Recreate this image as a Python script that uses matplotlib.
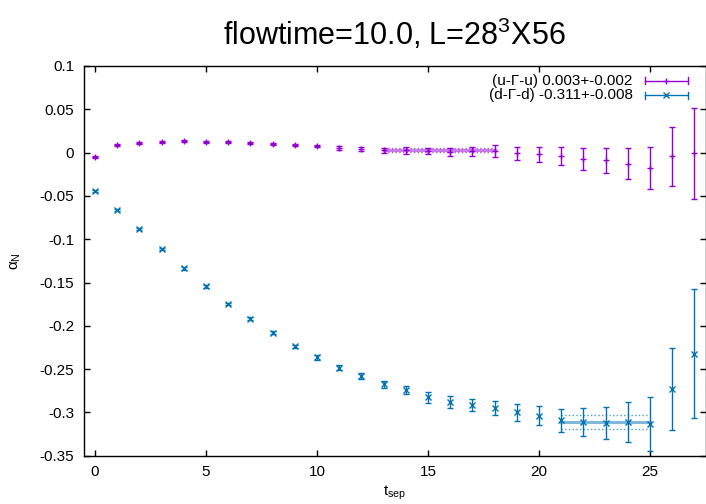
import numpy as np
import matplotlib
matplotlib.use("Agg")
import matplotlib.pyplot as plt

plt.rcParams["font.family"] = ["Liberation Sans", "DejaVu Sans"]
plt.rcParams["mathtext.fontset"] = "custom"
plt.rcParams["mathtext.rm"] = "Liberation Sans"

t_sep = list(range(28))

uu = [-0.005, 0.0084, 0.0107, 0.0122, 0.013, 0.0126, 0.0122, 0.0114, 0.0099, 0.0087,
      0.0076, 0.0053, 0.0042, 0.0027, 0.0027, 0.0022, 0.0007, 0.0015, 0.0015, -0.001,
      -0.002, -0.004, -0.0075, -0.0087, -0.013, -0.018, -0.004, -0.001]
uu_err = [0.001, 0.001, 0.001, 0.001, 0.0012, 0.0012, 0.0013, 0.0013, 0.0014, 0.0015,
          0.0016, 0.0018, 0.002, 0.003, 0.004, 0.0036, 0.0046, 0.005, 0.0067, 0.008,
          0.009, 0.010, 0.0124, 0.0143, 0.018, 0.0244, 0.034, 0.0525]

dd = [-0.0446, -0.0666, -0.0886, -0.111, -0.1338, -0.1546, -0.1747, -0.192, -0.208, -0.2237,
      -0.2365, -0.2485, -0.258, -0.2675, -0.274, -0.2826, -0.288, -0.2915, -0.295, -0.300,
      -0.304, -0.309, -0.311, -0.312, -0.311, -0.313, -0.273, -0.232]
dd_err = [0.001, 0.001, 0.0012, 0.0012, 0.0013, 0.0014, 0.0015, 0.0017, 0.002, 0.002,
          0.0025, 0.003, 0.003, 0.004, 0.005, 0.006, 0.0065, 0.007, 0.008, 0.0094,
          0.011, 0.0135, 0.0158, 0.0187, 0.0235, 0.031, 0.047, 0.075]

# plateau fits: (value, error, t range)
uu_fit = (0.003, 0.002, (13, 18))
dd_fit = (-0.311, 0.008, (21, 25))

labels = ["(u-Γ-u) 0.003+-0.002", "(d-Γ-d) -0.311+-0.008"]

purple = "#9400d3"
blue = "#0072b2"

fig = plt.figure(figsize=(7.06, 5.04), dpi=100)
ax = fig.add_axes([84 / 706, 1 - 455.7 / 504, 621.5 / 706, 389.7 / 504])

for y, err, fit, col, mk in [(uu, uu_err, uu_fit, purple, "+"),
                             (dd, dd_err, dd_fit, blue, "x")]:
    ax.errorbar(t_sep, y, yerr=err, fmt=mk, color=col, ms=5, mew=1,
                elinewidth=1, capsize=2.5, capthick=1)
    val, e, (t0, t1) = fit
    ax.plot([t0, t1], [val, val], color=col, lw=2.2, alpha=0.5)
    ax.plot([t0, t1], [val + e, val + e], color=col, lw=1, ls=":", alpha=0.7)
    ax.plot([t0, t1], [val - e, val - e], color=col, lw=1, ls=":", alpha=0.7)

# gnuplot-style key
key_rows = [0.9623, 0.9248]
for lab, ky, col, mk in zip(labels, key_rows, [purple, blue], ["+", "x"]):
    ax.text(0.8826, ky, lab, transform=ax.transAxes, ha="right", va="center", fontsize=11)
    ax.plot([0.9019, 0.9711], [ky, ky], color=col, lw=1, transform=ax.transAxes)
    for kx in (0.9019, 0.9711):
        ax.plot([kx, kx], [ky - 0.009, ky + 0.009], color=col, lw=1, transform=ax.transAxes)
    ax.plot([0.9365], [ky], marker=mk, color=col, ms=5, mew=1, transform=ax.transAxes)

ax.set_xlim(-0.5, 27.5)
ax.set_ylim(-0.35, 0.1)
ax.set_xticks([0, 5, 10, 15, 20, 25])
yt = np.round(np.arange(-0.35, 0.101, 0.05), 2)
ax.set_yticks(yt)
ax.set_yticklabels(["0" if abs(v) < 1e-9 else f"{v:g}" for v in yt])
ax.tick_params(direction="in", length=4.5, width=1, top=True, right=True,
               labelsize=11, pad=7)
for s in ax.spines.values():
    s.set_linewidth(1)

ax.set_title("flowtime=10.0, L=28$^{\\mathregular{3}}$X56", fontsize=22, pad=15)
ax.set_xlabel("t$_{\\mathregular{sep}}$", fontsize=11, labelpad=3)
ax.set_ylabel("α$_{\\mathregular{N}}$", fontsize=11, labelpad=12)

fig.savefig("out.png", dpi=100)
